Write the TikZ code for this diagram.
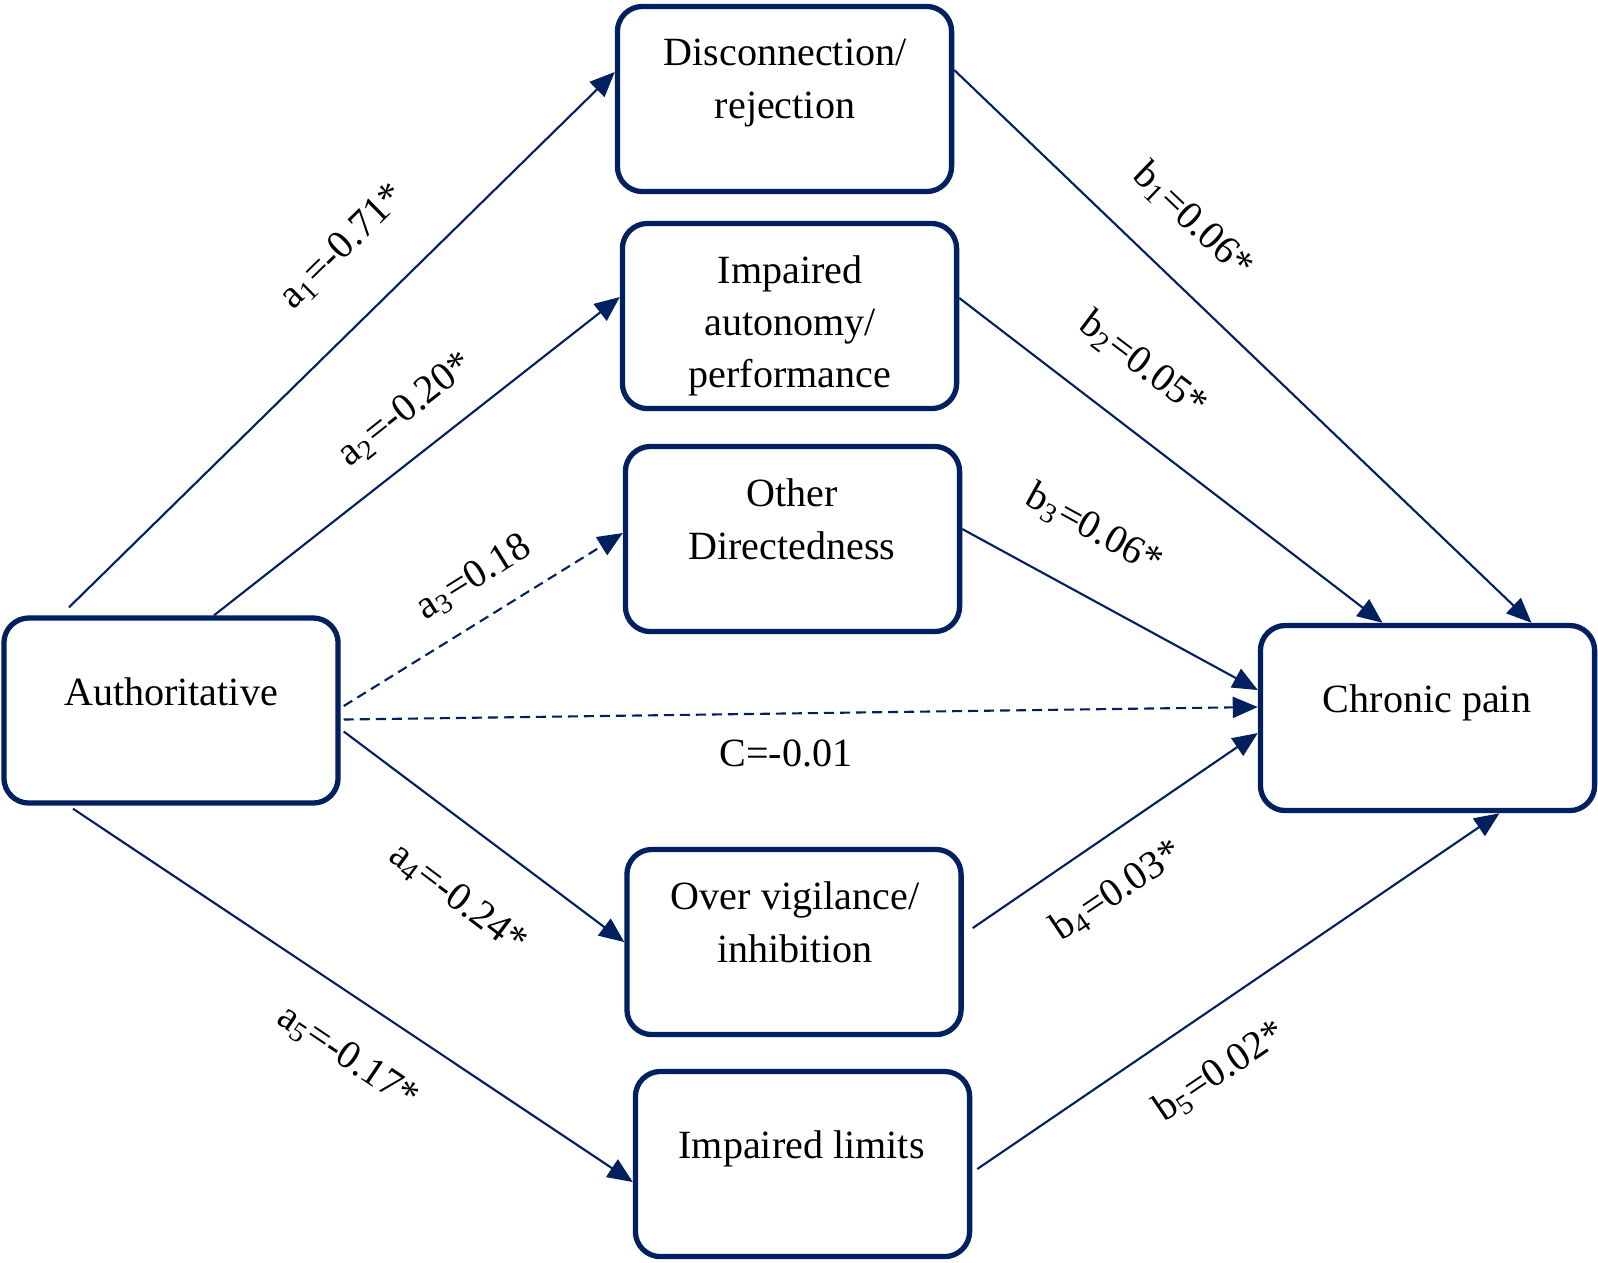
\documentclass[tikz,border=0pt]{standalone}
\usepackage{fontspec}
\setmainfont{Liberation Serif}
\usetikzlibrary{arrows.meta}
\usetikzlibrary{calc}
\definecolor{navy}{RGB}{0,32,96}

\begin{document}
\begin{tikzpicture}[x=0.01cm,y=-0.01cm,font=\fontsize{11.4}{14.9}\selectfont]
\tikzstyle{box} = [rectangle, rounded corners=0.25cm, draw=navy, line width=1.5pt, minimum width=3.34cm, minimum height=1.85cm]
\tikzstyle{txt} = [align=center, inner sep=0pt]
\tikzstyle{coef} = [inner sep=0pt]
\tikzstyle{edge} = [draw=navy, line width=0.6pt, -{Triangle[length=0.25cm,width=0.21cm]}]
\tikzstyle{direct} = [edge, dash pattern=on 0.1cm off 0.06cm]

\useasboundingbox (0,0) rectangle (1598,1262);

% boxes
\node[box] (auth) at (171,710.5) {};
\node[box] (dis) at (784.5,99) {};
\node[box] (aut) at (789.5,316) {};
\node[box] (oth) at (792.5,539) {};
\node[box] (ovr) at (794,942) {};
\node[box] (lim) at (802.5,1164) {};
\node[box] (chr) at (1427.5,718) {};

\node[txt] (autht) at (171,694.5) {\strut Authoritative};
\node[txt] (dist) at (785,81.5) {\strut Disconnection/\\rejection\strut};
\node[txt] (autt) at (790,325) {\strut Impaired\\autonomy/\\performance\strut};
\node[txt] (otht) at (792,522.5) {\strut Other\\Directedness\strut};
\node[txt] (ovrt) at (795,925.5) {\strut Over vigilance/\\inhibition\strut};
\node[txt] (limt) at (801.5,1147.5) {\strut Impaired limits};
\node[txt] (chrt) at (1427,702) {\strut Chronic pain};

% paths a
\draw[edge] ($(auth.north)+(-102,-8)$) to ($(dis.west)+(0,-27)$);
\draw[edge] ($(auth.north)+(43,0)$) to ($(aut.west)+(0,-19)$);
\draw[direct] ($(auth.east)+(3,-4.5)$) to ($(oth.west)+(0,-6)$);
\draw[direct] ($(auth.east)+(3,9)$) to ($(chr.west)+(0,-11)$);
\draw[edge] ($(auth.east)+(3,21)$) to (ovr.west);
\draw[edge] ($(auth.south)+(-98,3)$) to ($(lim.west)+(0,18)$);

% paths b
\draw[edge] ($(dis.east)+(0,-29)$) to ($(chr.north)+(104,0)$);
\draw[edge] ($(aut.east)+(0,-18)$) to ($(chr.north)+(-45,0)$);
\draw[edge] ($(oth.east)+(0,-10)$) to ($(chr.west)+(0,-28)$);
\draw[edge] ($(ovr.east)+(9,-14)$) to ($(chr.west)+(0,15)$);
\draw[edge] ($(lim.east)+(5,5)$) to ($(chr.south)+(72,0)$);

% coefficients
\node[coef, rotate=44.5] (la1) at (343,247) {a\textsubscript{1}=-0.71*};
\node[coef, rotate=38.3] (la2) at (406,410) {a\textsubscript{2}=-0.20*};
\node[coef, rotate=31.9] (la3) at (474,578) {a\textsubscript{3}=0.18};
\node[coef] (lc) at (786,753) {C=-0.01};
\node[coef, rotate=-37] (la4) at (458,899) {a\textsubscript{4}=-0.24*};
\node[coef, rotate=-33.9] (la5) at (348,1058) {a\textsubscript{5}=-0.17*};
\node[coef, rotate=-43.7] (lb1) at (1193,221) {b\textsubscript{1}=0.06*};
\node[coef, rotate=-37.1] (lb2) at (1143,365) {b\textsubscript{2}=0.05*};
\node[coef, rotate=-28.7] (lb3) at (1094,530) {b\textsubscript{3}=0.06*};
\node[coef, rotate=34] (lb4) at (1117,891) {b\textsubscript{4}=0.03*};
\node[coef, rotate=34] (lb5) at (1220,1072) {b\textsubscript{5}=0.02*};
\end{tikzpicture}
\end{document}
